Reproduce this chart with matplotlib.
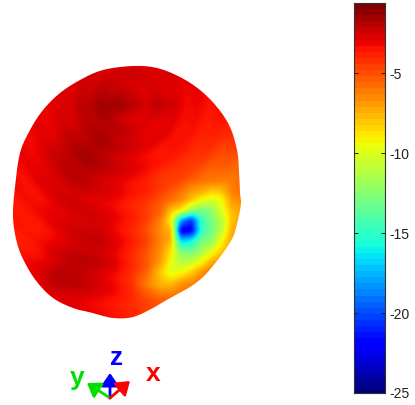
import numpy as np
import matplotlib
matplotlib.use("Agg")
import matplotlib.pyplot as plt
from matplotlib.path import Path
from matplotlib.patches import PathPatch

plt.rcParams['font.family'] = ['Liberation Sans', 'DejaVu Sans']

# Surface read-off: level (dB) at picture positions
grid_x = [10, 25, 40, 55, 70, 85, 100, 115, 130, 145, 160, 170, 180, 190, 200, 210, 220, 230, 245]
grid_y = [60, 75, 90, 105, 120, 135, 150, 165, 180, 190, 200, 210, 220, 230, 240, 250, 260, 270, 285, 300, 330]
levels = [
 [-2.6,-2.6,-2.6,-2.6,-2.6,-2.6,-2.6,-2.6,-2.6,-2.6,-2.6,-2.6,-2.6,-2.6,-2.6,-2.6,-2.6,-2.6,-2.6],
 [-2.6,-2.6,-2.6,-2.6,-2.6,-2.5,-2.4,-2.4,-2.3,-2.5,-2.6,-2.6,-2.7,-2.7,-2.8,-2.8,-2.8,-2.8,-2.8],
 [-2.8,-2.8,-2.8,-2.8,-2.6,-2.2,-2.0,-2.0,-2.4,-2.6,-2.5,-2.7,-2.8,-2.9,-3.0,-3.0,-3.0,-3.0,-3.0],
 [-2.9,-2.9,-2.9,-2.8,-2.4,-1.9,-1.4,-1.3,-2.0,-2.3,-2.0,-2.3,-2.8,-3.0,-3.1,-3.2,-3.2,-3.2,-3.2],
 [-2.9,-2.9,-2.9,-2.7,-2.5,-2.0,-1.7,-2.0,-2.6,-2.8,-2.7,-2.9,-3.0,-3.2,-3.3,-3.4,-3.4,-3.4,-3.4],
 [-3.0,-3.0,-2.9,-2.6,-2.1,-1.9,-1.6,-1.9,-2.2,-2.7,-2.9,-3.0,-3.2,-3.4,-3.5,-3.7,-3.8,-3.8,-3.8],
 [-3.0,-3.0,-2.8,-2.2,-1.8,-1.6,-1.7,-2.1,-2.5,-2.9,-3.2,-3.3,-3.5,-3.7,-4.0,-4.2,-4.5,-4.6,-4.6],
 [-3.0,-3.0,-2.8,-2.3,-1.8,-1.6,-1.9,-2.3,-2.7,-3.1,-3.6,-3.8,-4.0,-4.4,-4.7,-5.0,-5.2,-5.4,-5.4],
 [-3.1,-3.1,-2.8,-2.5,-2.1,-2.0,-2.3,-2.6,-3.0,-3.4,-4.2,-4.5,-4.8,-5.2,-5.6,-6.0,-6.2,-5.8,-5.5],
 [-3.2,-3.2,-3.0,-2.6,-2.3,-2.3,-2.6,-2.8,-3.3,-3.7,-4.5,-5.0,-5.5,-6.6,-7.2,-8.0,-7.5,-6.2,-5.5],
 [-3.3,-3.3,-3.1,-2.7,-2.4,-2.5,-2.7,-3.0,-3.6,-4.0,-4.9,-5.6,-6.6,-8.0,-9.5,-10.0,-9.5,-7.0,-6.0],
 [-3.3,-3.3,-3.1,-2.7,-2.5,-2.5,-2.6,-3.0,-3.6,-4.3,-5.5,-8.0,-9.0,-12.0,-13.0,-12.5,-10.0,-7.5,-6.5],
 [-3.4,-3.4,-3.2,-2.8,-2.5,-2.4,-2.5,-3.0,-3.6,-4.5,-6.2,-9.0,-18.0,-21.0,-15.0,-13.0,-11.0,-8.0,-6.5],
 [-3.5,-3.5,-3.3,-2.9,-2.5,-2.3,-2.3,-2.9,-3.6,-4.6,-6.5,-7.5,-23.0,-22.5,-15.0,-13.0,-11.0,-7.5,-6.5],
 [-3.5,-3.5,-3.3,-2.8,-2.4,-2.2,-2.2,-2.8,-3.6,-4.6,-6.5,-7.5,-17.0,-16.0,-13.0,-12.5,-9.5,-7.0,-6.5],
 [-3.3,-3.3,-3.1,-2.6,-2.2,-2.1,-2.2,-2.8,-3.6,-4.7,-6.5,-8.5,-13.0,-13.5,-12.0,-10.0,-8.0,-6.5,-6.0],
 [-3.2,-3.2,-2.9,-2.3,-2.0,-2.0,-2.2,-2.8,-3.8,-5.0,-7.0,-9.5,-11.5,-11.0,-9.5,-7.5,-6.5,-6.0,-6.0],
 [-3.1,-3.1,-2.7,-2.0,-1.8,-2.0,-2.4,-3.0,-3.9,-5.2,-8.0,-10.0,-9.5,-8.5,-7.0,-6.0,-6.0,-6.0,-6.0],
 [-3.1,-3.1,-2.6,-2.0,-2.0,-2.2,-2.6,-3.1,-4.0,-6.0,-7.5,-7.5,-6.5,-6.0,-5.5,-5.5,-5.5,-5.5,-5.5],
 [-3.3,-3.3,-3.0,-2.8,-2.6,-2.8,-3.0,-3.3,-3.8,-4.5,-5.0,-5.0,-5.0,-5.0,-5.0,-5.0,-5.0,-5.0,-5.0],
 [-3.5,-3.5,-3.2,-3.0,-3.0,-3.0,-3.2,-3.4,-3.6,-4.0,-4.5,-4.5,-4.5,-4.5,-4.5,-4.5,-4.5,-4.5,-4.5],
]
# ring pattern on the surface: offset (dB) by distance from the pole
ring_r = [0, 8, 18, 28, 38, 48, 58, 70, 82, 94, 106, 118, 130, 142, 154, 166, 178, 190, 205, 220]
ring_d = [0.0, 0.15, -0.15, 0.15, -0.15, 0.15, -0.15, 0.15, -0.15, 0.15, -0.15, 0.15, -0.15, 0.15, -0.15, 0.15, -0.15, 0.15, -0.15, 0.15]
outline_x = [133,157,180,200,217,230,237,239,240,241,238,233,223,212,203,190,170,153,133,113,93,73,53,37,25,17,13,15,20,30,43,60,80,103]
outline_y = [66,68,77,90,107,127,150,170,193,203,220,237,253,267,277,287,298,308,317,318,313,308,298,282,263,243,217,187,153,130,110,93,80,70]

cbar_levels = np.linspace(-25, -0.6, 64)
cbar_ticks = [-5, -10, -15, -20, -25]

def fine_field():
    gx = np.arange(0, 260)
    gy = np.arange(50, 335)
    Z = np.array(levels)
    by_x = np.array([np.interp(gx, grid_x, row) for row in Z])
    F = np.array([np.interp(gy, grid_y, by_x[:, j]) for j in range(len(gx))]).T
    XX, YY = np.meshgrid(gx, gy)
    F = F + np.interp(np.hypot(XX - 127, YY - 100), ring_r, ring_d)
    k = np.exp(-0.5 * (np.arange(-5, 6) / 1.4) ** 2)
    k /= k.sum()
    F = np.apply_along_axis(lambda v: np.convolve(np.pad(v, 5, mode='edge'), k, 'valid'), 0, F)
    F = np.apply_along_axis(lambda v: np.convolve(np.pad(v, 5, mode='edge'), k, 'valid'), 1, F)
    return F, gx, gy

def smooth_closed(px, py, n=12):
    P = np.column_stack([px, py]).astype(float)
    out = []
    N = len(P)
    for i in range(N):
        p0, p1, p2, p3 = P[(i - 1) % N], P[i], P[(i + 1) % N], P[(i + 2) % N]
        for t in np.linspace(0, 1, n, endpoint=False):
            out.append(0.5 * (2 * p1 + (p2 - p0) * t + (2 * p0 - 5 * p1 + 4 * p2 - p3) * t ** 2
                              + (3 * p1 - p0 - 3 * p2 + p3) * t ** 3))
    out.append(out[0])
    return np.array(out)

fig = plt.figure(figsize=(4.15, 4.05), dpi=100)
ax = fig.add_axes([0, 0, 1, 1])
ax.axis('off')

F, gx, gy = fine_field()
im = ax.imshow(F, extent=[gx[0], gx[-1] + 1, gy[-1] + 1, gy[0]], cmap='jet', vmin=-25, vmax=-0.6,
               interpolation='bilinear', aspect='auto')
ax.set_xlim(0, 415)
ax.set_ylim(405, 0)
clip = PathPatch(Path(smooth_closed(outline_x, outline_y)), transform=ax.transData, fc='none', ec='none')
ax.add_patch(clip)
im.set_clip_path(clip)

# orientation triad
origin = (110, 398)
for tip, col in [((110, 373), '#0000ff'), ((87, 383), '#00e000'), ((130, 381), '#ff0000')]:
    ax.annotate('', xy=tip, xytext=origin,
                arrowprops=dict(arrowstyle='-|>,head_width=0.38,head_length=0.55',
                                color=col, lw=2.0, mutation_scale=14, shrinkA=0, shrinkB=0))
for label, px, py, col in [('z', 117, 358, '#0000ff'), ('y', 77, 378, '#00e000'), ('x', 153, 374, '#ff0000')]:
    ax.text(px, py, label, color=col, fontsize=19, fontweight='bold', ha='center', va='center')

# colour bar
W, H = 415, 405
cax = fig.add_axes([354/W, 1 - 393/H, 31/W, 390/H])
cax.imshow(cbar_levels[:, None], origin='lower', aspect='auto', cmap='jet',
           extent=[0, 1, -25, -0.6], vmin=-25, vmax=-0.6, interpolation='nearest')
cax.set_xticks([])
cax.set_yticks(cbar_ticks)
cax.set_yticklabels([str(t) for t in cbar_ticks], fontsize=10, color='#222222')
cax.yaxis.tick_right()
cax.tick_params(axis='y', direction='in', length=3, width=0.7, left=True, right=True, pad=3, colors='#222222')
for s in cax.spines.values():
    s.set_linewidth(0.8)
    s.set_color('#333333')

fig.savefig('out.png', dpi=100)
